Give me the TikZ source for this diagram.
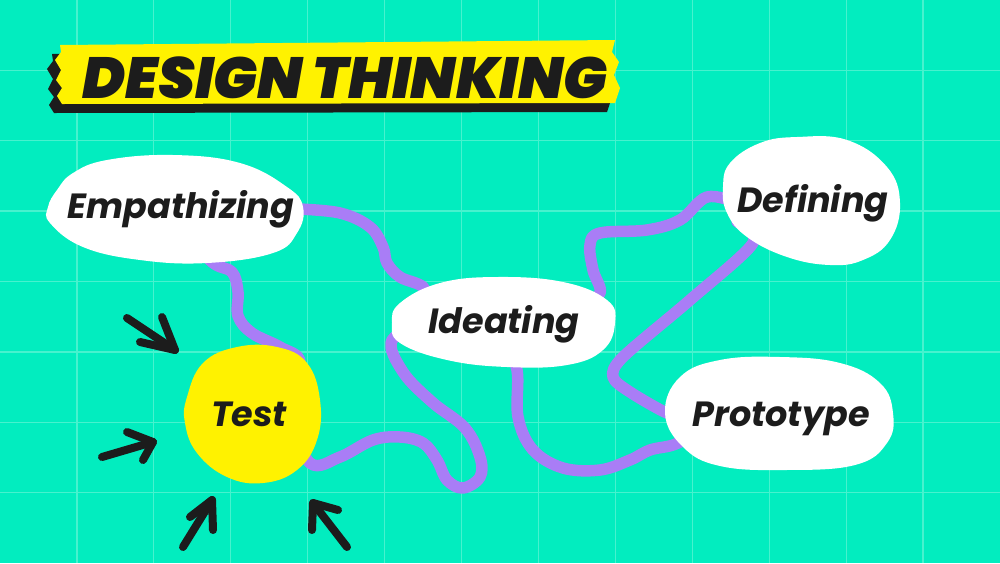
\documentclass[tikz,border=0pt]{standalone}
\usepackage{fontspec}
\newfontfamily\labelfont{Poppins}
\newfontfamily\titlefont{Poppins Black Italic}
\definecolor{bgteal}{HTML}{02EDBF}
\definecolor{gridc}{HTML}{47F2CE}
\definecolor{purp}{HTML}{A97DF6}
\definecolor{tapey}{HTML}{FFF200}
\definecolor{ink}{HTML}{1C1C1C}
\pgfdeclarelayer{back}
\pgfdeclarelayer{mid}
\pgfsetlayers{back,mid,main}
\tikzset{
  gridline/.style={draw=gridc, line width=1.3},
  link/.style={draw=purp, line width=11.5, line cap=round, line join=round},
  blob/.style={fill=white, draw=none},
  lbl/.style={inner sep=0pt, anchor=base, text=ink, font=\labelfont\bfseries\itshape\fontsize{35}{35}\selectfont},
  pointer/.style={draw=ink, line width=8, line cap=round, line join=round},
}
\begin{document}
\begin{tikzpicture}[x=1pt,y=-1pt]
\useasboundingbox (0,0) rectangle (1000,563);
\begin{pgfonlayer}{back}
  \fill[bgteal] (0,0) rectangle (1000,563);
  \foreach \i in {1,...,12} \draw[gridline] ({\i*1000/13},0) -- ({\i*1000/13},563);
  \foreach \j in {1,...,7} \draw[gridline] (0,{\j*563/8}) -- (1000,{\j*563/8});
\end{pgfonlayer}

% banner
\fill[ink, shift={(-8,9)}] (60,45) -- (615,40) -- (612,52) -- (619,62) -- (614,75) -- (620,88) -- (615,103) -- (62,104) -- (57,96) -- (62,88) -- (56,80) -- (61,70) -- (55,60) -- (61,52) -- cycle;
\fill[tapey] (60,45) -- (615,40) -- (612,52) -- (619,62) -- (614,75) -- (620,88) -- (615,103) -- (62,104) -- (57,96) -- (62,88) -- (56,80) -- (61,70) -- (55,60) -- (61,52) -- cycle;
\node[inner sep=0pt, anchor=base, text=ink, font=\titlefont\fontsize{58}{58}\selectfont] (title) at (345,98) {DESIGN THINKING};

% blobs
\fill[blob] plot[smooth cycle, tension=0.7] coordinates {(57,190) (73,173) (107,160) (173,155) (240,163) (287,187) (303,207) (297,233) (273,253) (207,263) (140,260) (83,247) (50,223) (48,207)};
\fill[blob] plot[smooth cycle, tension=0.7] coordinates {(730,163) (760,143) (797,137) (847,140) (887,167) (900,203) (890,240) (863,260) (830,265) (787,257) (747,237) (727,213) (723,187)};
\fill[blob] plot[smooth cycle, tension=0.7] coordinates {(400,303) (440,283) (497,277) (563,282) (607,300) (615,323) (603,350) (567,365) (507,367) (447,360) (400,343) (392,323)};
\fill[blob] plot[smooth cycle, tension=0.7] coordinates {(680,377) (720,360) (780,357) (840,363) (880,383) (893,413) (887,443) (855,465) (785,470) (720,466) (683,447) (665,413)};
\fill[tapey] plot[smooth cycle, tension=0.7] coordinates {(187,397) (203,363) (237,347) (277,347) (307,363) (320,400) (317,440) (297,470) (263,483) (227,477) (197,453) (185,423)};

% labels
\node[lbl] (emp) at (181,218) {Empathizing};
\node[lbl] (def) at (813,212) {Defining};
\node[lbl] (ide) at (504,333) {Ideating};
\node[lbl] (pro) at (781,426) {Prototype};
\node[lbl] (test) at (249,426) {Test};

% connectors
\begin{pgfonlayer}{mid}
  \draw[link] plot[smooth, tension=0.6] coordinates {(emp.east) (340,213) (370,227) (383,247) (387,263) (400,277) (423,287) (ide.north west)};
  \draw[link] plot[smooth, tension=0.6] coordinates {(emp.south) (212,262) (232,272) (238,292) (238,316) (252,333) (280,347) (300,362) (test.north east)};
  \draw[link] plot[smooth, tension=0.6] coordinates {(test.east) (310,463) (340,457) (373,440) (400,437) (423,443) (437,460) (447,480) (463,488) (480,477) (480,457) (465,428) (432,402) (403,372) (392,340) (ide.west)};
  \draw[link] plot[smooth, tension=0.6] coordinates {(ide.north east) (600,293) (593,270) (590,245) (600,233) (647,230) (680,220) (707,197) (def.west)};
  \draw[link] plot[smooth, tension=0.5] coordinates {(def.south west) (753,243) (690,300) (623,357) (613,377) (630,392) (667,413) (pro.west)};
  \draw[link] plot[smooth, tension=0.6] coordinates {(ide.south) (517,370) (518,417) (533,450) (563,468) (600,470) (630,460) (650,450) (673,445) (pro.south west)};
\end{pgfonlayer}

% arrows
\draw[pointer] (127,318) -- (175,350);
\draw[pointer] (140,342) -- (175,350) -- (162,317);
\draw[pointer] (102,457) -- (153,442);
\draw[pointer] (127,432) -- (153,442) -- (143,460);
\draw[pointer] (183,547) -- (212,500);
\draw[pointer] (190,517) -- (212,500) -- (213,530);
\draw[pointer] (347,547) -- (313,503);
\draw[pointer] (338,510) -- (313,503) -- (312,530);
\end{tikzpicture}
\end{document}
